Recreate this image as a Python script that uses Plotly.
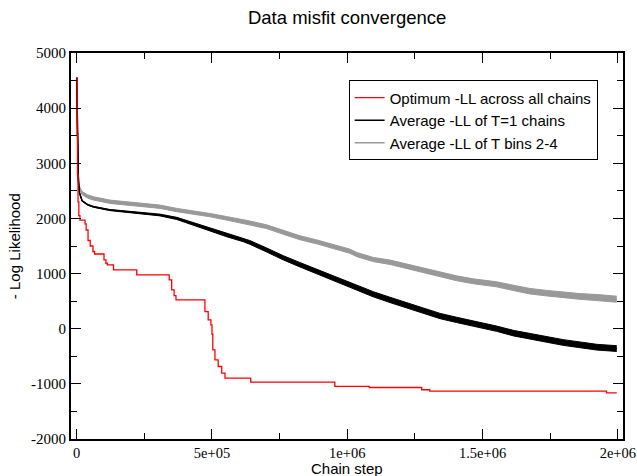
import plotly.graph_objects as go

# ---- data ----
opt_steps = [0, 1500, 3000, 5000, 8000, 12000, 31000, 35000, 42000, 50000, 60000, 66000,
             101000, 108000, 113000, 136000, 222000, 342000, 351000, 360000, 367000,
             474000, 486000, 496000, 500000, 503000, 511000, 523000, 536000, 548000,
             643000, 954000, 1081000, 1275000, 1305000, 1958000, 1996000]
opt_ll = [4550, 3500, 2800, 2300, 2050, 1970, 1900, 1790, 1600, 1500, 1400, 1355,
          1250, 1187, 1156, 1066, 975, 885, 703, 600, 522,
          311, 160, 70, -100, -383, -564, -685, -805, -896,
          -968, -1047, -1066, -1107, -1131, -1162, -1162]

avg_steps = [0, 3000, 6000, 10000, 20000, 40000, 61000, 123000, 185000, 246000, 308000,
             370000, 431000, 493000, 554000, 616000, 640000, 702000, 764000, 825000,
             887000, 948000, 1010000, 1035000, 1096000, 1158000, 1220000, 1281000,
             1343000, 1404000, 1466000, 1527000, 1552000, 1614000, 1675000, 1737000,
             1798000, 1860000, 1922000, 1996000]
t1_ll = [4550, 3200, 2700, 2470, 2320, 2250, 2212, 2152, 2121, 2092, 2062,
         2000, 1900, 1800, 1699, 1609, 1565, 1428, 1285, 1160,
         1035, 915, 800, 745, 625, 522, 425, 320,
         230, 160, 95, 35, 0, -80, -140, -200,
         -250, -292, -335, -360]
t1_spread = [6, 6, 6, 6, 6, 8, 8, 10, 12, 14, 16,
             20, 24, 28, 30, 32, 34, 36, 38, 40,
             42, 44, 45, 46, 47, 48, 48, 48,
             48, 48, 48, 48, 48, 50, 50, 50,
             52, 52, 52, 52]
tb_ll = [4550, 3300, 2800, 2560, 2460, 2400, 2364, 2302, 2273, 2243, 2212,
         2152, 2110, 2060, 2002, 1945, 1920, 1850, 1745, 1650,
         1575, 1490, 1405, 1345, 1255, 1205, 1130, 1065,
         980, 915, 860, 825, 805, 740, 680, 645,
         613, 585, 565, 535]
tb_spread = [8, 10, 15, 22, 28, 30, 30, 30, 30, 30, 30,
             30, 30, 30, 32, 34, 34, 34, 34, 36,
             36, 38, 38, 38, 38, 40, 40, 42,
             42, 44, 44, 46, 46, 48, 50, 50,
             52, 52, 55, 55]

x_tickvals = [0, 500000, 1000000, 1500000, 2000000]
x_ticktext = ["0", "5e+05", "1e+06", "1.5e+06", "2e+06"]
x_minor = [250000, 750000, 1250000, 1750000]
y_tickvals = [-2000, -1000, 0, 1000, 2000, 3000, 4000, 5000]
y_ticktext = ["-2000", "-1000", "0", "1000", "2000", "3000", "4000", "5000"]
y_minor = [-1500, -500, 500, 1500, 2500, 3500, 4500]

RED = "#ff0000"
BLACK = "#000000"
GRAY = "#999999"

fig = go.Figure()


def band(xs, mid, spread, color, name, rank):
    lo = [m - s for m, s in zip(mid, spread)]
    hi = [m + s for m, s in zip(mid, spread)]
    fig.add_trace(go.Scatter(x=xs, y=lo, mode="lines", line=dict(color=color, width=1),
                             showlegend=False, hoverinfo="skip"))
    fig.add_trace(go.Scatter(x=xs, y=hi, mode="lines", line=dict(color=color, width=1),
                             fill="tonexty", fillcolor=color, showlegend=False,
                             hoverinfo="skip"))
    fig.add_trace(go.Scatter(x=xs, y=mid, mode="lines", line=dict(color=color, width=1.5),
                             name=name, legendrank=rank))


band(avg_steps, tb_ll, tb_spread, GRAY, "Average -LL of T bins 2-4", 3)
band(avg_steps, t1_ll, t1_spread, BLACK, "Average -LL of T=1 chains", 2)

fig.add_trace(go.Scatter(x=opt_steps, y=opt_ll, mode="lines",
                         line=dict(color=RED, width=1.3, shape="hv"),
                         name="Optimum -LL across all chains", legendrank=1))

fig.update_layout(
    width=637, height=476,
    margin=dict(l=71, r=14, t=53, b=37),
    paper_bgcolor="white", plot_bgcolor="white",
    title=dict(text="Data misfit convergence", x=0.545, xanchor="center", y=0.963, yanchor="middle",
               font=dict(family="Liberation Sans", size=18.5, color="black")),
    legend=dict(x=0.503, y=0.929, xanchor="left", yanchor="top",
                bordercolor="black", borderwidth=1, bgcolor="white",
                font=dict(family="Liberation Sans", size=15, color="black"),
                traceorder="normal", itemwidth=30, tracegroupgap=0),
    showlegend=True,
    annotations=[
        dict(text="Chain step", xref="paper", yref="paper", x=0.5, y=-0.077,
             xanchor="center", yanchor="middle", showarrow=False,
             font=dict(family="Liberation Sans", size=15, color="black")),
        dict(text="- Log Likelihood", xref="paper", yref="paper", x=-0.103, y=0.5,
             xanchor="center", yanchor="middle", showarrow=False, textangle=-90,
             font=dict(family="Liberation Sans", size=15, color="black")),
    ],
)

fig.update_xaxes(
    range=[-21000, 2019000], showgrid=False, zeroline=False, automargin=False,
    showline=True, linecolor="black", linewidth=2, mirror="allticks",
    ticks="inside", ticklen=10, tickwidth=1, tickcolor="black",
    tickmode="array", tickvals=x_tickvals, ticktext=x_ticktext,
    ticklabeloverflow="allow",
    tickfont=dict(family="Liberation Serif", size=14.5, color="black"),
    minor=dict(tickmode="array", tickvals=x_minor, ticks="inside", ticklen=6,
               tickwidth=1, tickcolor="black", showgrid=False),
)
fig.update_yaxes(
    range=[-2000, 5000], showgrid=False, zeroline=False, automargin=False,
    showline=True, linecolor="black", linewidth=2, mirror="allticks",
    ticks="inside", ticklen=10, tickwidth=1, tickcolor="black",
    tickmode="array", tickvals=y_tickvals, ticktext=y_ticktext,
    tickfont=dict(family="Liberation Serif", size=15, color="black"),
    minor=dict(tickmode="array", tickvals=y_minor, ticks="inside", ticklen=6,
               tickwidth=1, tickcolor="black", showgrid=False),
)

fig.write_html("out.html")
